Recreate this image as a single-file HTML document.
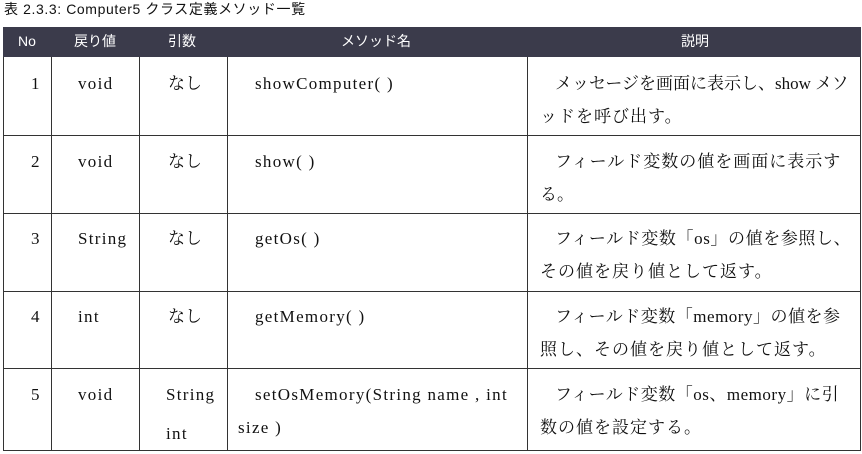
<!DOCTYPE html>
<html><head><meta charset="utf-8"><style>
body{margin:0;width:862px;height:454px;background:#fff;position:relative;overflow:hidden;font-family:"Liberation Serif","Noto Serif CJK SC",serif;font-size:17px;color:#111}
.t{position:absolute;white-space:nowrap;line-height:20px}
.l{letter-spacing:1.3px}
.h{position:absolute;top:27px;left:3px;width:858px;height:30px;background:#3b3b4b}
.hl{position:absolute;color:#fff;font-family:"Liberation Sans","Noto Sans CJK JP",sans-serif;font-size:14px;top:32px;line-height:18px}
.v{position:absolute;width:1px;background:#333;top:57px;height:394px}
.r{position:absolute;height:1px;background:#333;left:3px;width:858px}
</style></head><body>
<div class="t" style="left:4px;top:1px;font-family:'Liberation Sans','Noto Sans CJK JP',sans-serif;font-size:14px;line-height:16px;letter-spacing:0.6px">表 2.3.3: Computer5 クラス定義メソッド一覧</div>
<div class="h"></div>
<div class="hl" style="left:18px">No</div>
<div class="hl" style="left:74px">戻り値</div>
<div class="hl" style="left:168px">引数</div>
<div class="hl" style="left:341px">メソッド名</div>
<div class="hl" style="left:681px">説明</div>
<div class="v" style="left:3px"></div><div class="v" style="left:51px"></div><div class="v" style="left:139px"></div><div class="v" style="left:227px"></div><div class="v" style="left:527px"></div><div class="v" style="left:860px"></div>
<div class="r" style="top:135px"></div><div class="r" style="top:213px"></div><div class="r" style="top:291px"></div><div class="r" style="top:368px"></div><div class="r" style="top:450px"></div>

<div class="t" style="left:31px;top:74px">1</div><div class="t l" style="left:78px;top:74px">void</div><div class="t" style="left:168px;top:74px">なし</div><div class="t l" style="left:255px;top:74px">showComputer( )</div>
<div class="t" style="left:555px;top:74px;letter-spacing:0px">メッセージを画面に表示し、show メソ</div><div class="t" style="left:540px;top:107px;letter-spacing:1px">ッドを呼び出す。</div>

<div class="t" style="left:31px;top:152px">2</div><div class="t l" style="left:78px;top:152px">void</div><div class="t" style="left:168px;top:152px">なし</div><div class="t l" style="left:255px;top:152px">show( )</div>
<div class="t" style="left:555px;top:152px;letter-spacing:1px">フィールド変数の値を画面に表示す</div><div class="t" style="left:540px;top:185px">る。</div>

<div class="t" style="left:31px;top:229px">3</div><div class="t l" style="left:78px;top:229px">String</div><div class="t" style="left:168px;top:229px">なし</div><div class="t l" style="left:255px;top:229px">getOs( )</div>
<div class="t" style="left:555px;top:229px;letter-spacing:0.6px">フィールド変数「os」の値を参照し、</div><div class="t" style="left:540px;top:262px;letter-spacing:1px">その値を戻り値として返す。</div>

<div class="t" style="left:31px;top:307px">4</div><div class="t l" style="left:78px;top:307px">int</div><div class="t" style="left:168px;top:307px">なし</div><div class="t l" style="left:255px;top:307px">getMemory( )</div>
<div class="t" style="left:555px;top:307px;letter-spacing:0.5px">フィールド変数「memory」の値を参</div><div class="t" style="left:540px;top:340px;letter-spacing:1px">照し、その値を戻り値として返す。</div>

<div class="t" style="left:31px;top:385px">5</div><div class="t l" style="left:78px;top:385px">void</div><div class="t l" style="left:166px;top:385px">String</div><div class="t l" style="left:166px;top:424px">int</div>
<div class="t l" style="left:255px;top:385px">setOsMemory(String name , int</div><div class="t l" style="left:238px;top:418px">size )</div>
<div class="t" style="left:555px;top:385px;letter-spacing:0.5px">フィールド変数「os、memory」に引</div><div class="t" style="left:540px;top:418px;letter-spacing:1px">数の値を設定する。</div>
</body></html>
